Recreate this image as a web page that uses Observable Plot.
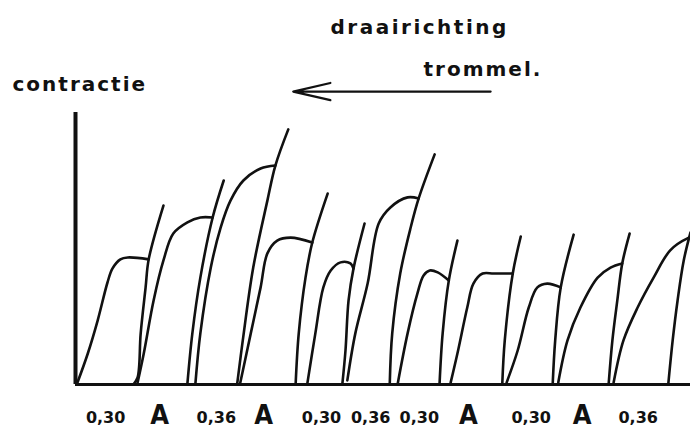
<!DOCTYPE html>
<html>
<head>
<meta charset="utf-8">
<script src="https://cdn.jsdelivr.net/npm/d3@7"></script>
<script src="https://cdn.jsdelivr.net/npm/@observablehq/plot@0.6"></script>
<style>
  html, body { margin: 0; padding: 0; background: white; }
  #chart svg { display: block; }
</style>
</head>
<body>
<div id="chart"></div>
<script>
// Kymograph trace: x = drum position (arbitrary units 0–100), y = contraction (units 0–100)
// Rising contraction curves (one per stimulus)
const rise1  = [[0.2,0],[2.0,11.4],[3.6,23.5],[5.2,37.5],[6.0,42.6],[7.3,46.0],[8.5,46.7],[11.9,46.0]];
const rise2  = [[10.1,0.7],[11.1,11.4],[12.7,30.9],[14.3,45.6],[15.9,55.5],[18.2,59.6],[20.3,61.4],[22.3,61.4]];
const rise3  = [[19.5,0.4],[20.3,18.8],[22.0,43.0],[23.6,57.7],[25.2,67.6],[27.3,75.0],[30.1,79.4],[32.5,80.5]];
const rise4  = [[26.8,0.7],[28.5,18.8],[30.1,35.7],[31.2,48.2],[32.8,52.9],[35.0,54.0],[38.5,52.2]];
const rise5  = [[37.7,0.4],[39.0,18.8],[40.3,35.7],[41.5,41.9],[43.1,44.9],[44.7,44.5],[45.2,42.6]];
const rise6  = [[44.2,1.5],[45.5,18.8],[47.5,37.1],[49.3,59.2],[51.2,65.1],[54.0,68.8],[55.8,68.4]];
const rise7  = [[52.4,0.4],[54.0,18.8],[55.6,33.5],[56.6,40.1],[57.6,41.9],[58.9,41.2],[60.7,38.2]];
const rise8  = [[61.0,0.7],[62.1,11.4],[63.7,28.3],[64.7,37.1],[66.2,40.8],[68.0,40.8],[71.1,40.8]];
const rise9  = [[70.1,0.7],[71.9,12.5],[73.7,28.3],[75.1,35.7],[76.7,37.1],[78.9,35.7]];
const rise10 = [[78.5,0.7],[80.0,16.2],[82.1,28.3],[84.9,39.3],[87.0,43.0],[88.9,44.5]];
const rise11 = [[87.5,0.7],[89.1,16.2],[91.4,28.3],[94.0,39.3],[96.7,49.3],[99.5,53.7],[100,54.0]];

// Steep drum-rotation strokes ending each contraction
const steep1  = [[9.4,0],[10.1,2.6],[10.6,18.8],[11.4,35.7],[11.9,46.0],[14.3,65.8]];
const steep2  = [[18.2,0.4],[19.0,18.8],[20.3,39.3],[22.3,61.4],[24.1,75.0]];
const steep3  = [[26.3,0.4],[27.2,16.2],[28.9,43.0],[31.2,67.6],[32.5,80.5],[34.6,93.8]];
const steep4  = [[35.8,0.4],[36.3,18.8],[37.4,39.3],[38.5,52.2],[41.0,70.2]];
const steep5  = [[43.4,0.4],[43.9,12.5],[44.4,30.9],[45.2,42.6],[47.0,59.2]];
const steep6  = [[51.1,0.4],[51.5,18.8],[52.8,40.8],[54.5,57.7],[55.8,68.4],[58.4,84.6]];
const steep7  = [[59.2,0.4],[59.7,18.8],[60.7,38.2],[62.1,52.9]];
const steep8  = [[69.4,0.4],[69.8,16.2],[71.1,40.8],[72.4,54.4]];
const steep9  = [[77.6,0.4],[78.0,16.2],[78.9,35.7],[81.0,55.1]];
const steep10 = [[86.7,0.4],[87.3,16.2],[88.1,30.9],[88.9,44.5],[90.1,55.5]];
const steep11 = [[96.4,0.4],[97.1,16.2],[97.9,30.9],[98.9,45.6],[100,55.9]];

// Stimulus labels under the trace and their drum positions
const stimLabels = ["0,30","A","0,36","A","0,30","0,36","0,30","A","0,30","A","0,36"];
const stimAt     = [4.9, 13.7, 22.9, 30.6, 40.0, 48.0, 55.9, 63.9, 74.1, 82.4, 91.5];

// Drum rotation arrow (from, to) in drum units, at contraction level
const arrowFrom = [67.5, 107.7];
const arrowTo   = [35.4, 107.7];

const rises = [rise1, rise2, rise3, rise4, rise5, rise6, rise7, rise8, rise9, rise10, rise11];
const steeps = [steep1, steep2, steep3, steep4, steep5, steep6, steep7, steep8, steep9, steep10, steep11];
const stim = stimLabels.map((t, i) => ({t, x: stimAt[i]}));

const ink = "#111";
const lineOpts = {x: d => d[0], y: d => d[1], curve: "catmull-rom", stroke: ink, strokeWidth: 2.6, strokeLinecap: "round", strokeLinejoin: "round"};
const font = "DejaVu Sans, sans-serif";

const svg = Plot.plot({
  width: 690,
  height: 428,
  marginTop: 112,
  marginBottom: 44,
  marginLeft: 75,
  marginRight: 0,
  style: {background: "white", overflow: "visible"},
  x: {domain: [0, 100], axis: null},
  y: {domain: [0, 100], axis: null},
  marks: [
    Plot.ruleY([0], {stroke: ink, strokeWidth: 3}),
    Plot.ruleX([0], {stroke: ink, strokeWidth: 4}),
    ...rises.map(r => Plot.line(r, lineOpts)),
    ...steeps.map(s => Plot.line(s, lineOpts)),
    Plot.text(stim.filter(d => d.t !== "A"), {x: "x", y: 0, text: "t", dy: 38, lineAnchor: "bottom", fontSize: 16, fontWeight: "bold", fontFamily: font, fill: ink}),
    Plot.text(stim.filter(d => d.t === "A"), {x: "x", y: 0, text: "t", dy: 39, lineAnchor: "bottom", fontSize: 27, fontWeight: "bold", fontFamily: "Liberation Sans Narrow, DejaVu Sans Condensed, sans-serif", fill: ink}),
    Plot.arrow([{a: arrowFrom, b: arrowTo}], {x1: d => d.a[0], y1: d => d.a[1], x2: d => d.b[0], y2: d => d.b[1], stroke: ink, strokeWidth: 2.2, headLength: 26, headAngle: 26, bend: 0}),
    Plot.text(["draairichting"], {frameAnchor: "top-left", dx: 255, dy: -79, textAnchor: "start", lineAnchor: "bottom", fontSize: 20, fontWeight: "bold", fontFamily: font, fill: ink}),
    Plot.text(["trommel."], {frameAnchor: "top-left", dx: 348, dy: -37, textAnchor: "start", lineAnchor: "bottom", fontSize: 20, fontWeight: "bold", fontFamily: font, fill: ink}),
    Plot.text(["contractie"], {frameAnchor: "top-left", dx: -63, dy: -22, textAnchor: "start", lineAnchor: "bottom", fontSize: 20, fontWeight: "bold", fontFamily: font, fill: ink})
  ]
});

const spacing = {"draairichting": "2.5px", "trommel.": "2px", "contractie": "2px"};
d3.select(svg).selectAll("text").each(function() {
  const t = this.textContent;
  if (spacing[t]) this.setAttribute("letter-spacing", spacing[t]);
  if (t === "A") this.setAttribute("font-stretch", "condensed");
});

document.getElementById("chart").append(svg);
</script>
</body>
</html>
